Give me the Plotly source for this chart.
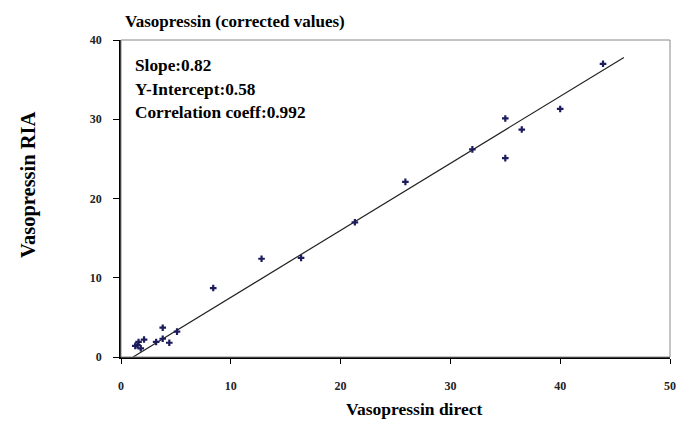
import plotly.graph_objects as go

# Data
direct = [43.9, 40.0, 35.0, 36.5, 35.0, 32.0, 25.9, 21.3, 16.4, 12.8, 8.4,
          5.1, 3.8, 3.8, 4.4, 3.2, 2.1, 1.6, 1.5, 1.8, 1.3]
ria = [37.0, 31.3, 30.1, 28.7, 25.1, 26.2, 22.1, 17.0, 12.5, 12.4, 8.7,
       3.2, 3.7, 2.3, 1.8, 1.9, 2.2, 1.9, 1.5, 1.1, 1.4]
fit_x = [1.1, 45.8]
fit_y = [0.0, 37.8]
x_ticks = [0, 10, 20, 30, 40, 50]
y_ticks = [0, 10, 20, 30, 40]
stats_lines = ["Slope:0.82", "Y-Intercept:0.58", "Correlation coeff:0.992"]

FONT = "Liberation Serif, Times New Roman, serif"

W, H = 678, 426
L, T = 121, 40
R = W - 670
B = H - 357
PW, PH = W - L - R, H - T - B


def px(x):
    return (x - L) / PW


def py(y):
    return (H - B - y) / PH


fig = go.Figure()
fig.add_trace(go.Scatter(x=fit_x, y=fit_y, mode="lines",
                         line=dict(color="#222222", width=1.2), showlegend=False))
fig.add_trace(go.Scatter(x=direct, y=ria, mode="markers",
                         marker=dict(symbol="cross", size=5.5, color="#1c1c5c"),
                         showlegend=False))

tickfont = dict(family=FONT, size=12, color="#222222")
fig.update_layout(
    width=W, height=H,
    margin=dict(l=L, r=R, t=T, b=B, autoexpand=False),
    plot_bgcolor="white", paper_bgcolor="white",
    font=dict(family=FONT, color="black"),
    xaxis=dict(range=[0, 50], tickvals=x_ticks, ticktext=[f"<b>{v}</b>" for v in x_ticks],
               showgrid=False, zeroline=False, automargin=False,
               showline=True, linecolor="black", linewidth=1.5,
               ticks="outside", ticklen=5, tickcolor="black",
               tickfont=tickfont, ticklabelstandoff=12),
    yaxis=dict(range=[0, 40], tickvals=y_ticks, ticktext=[f"<b>{v}</b>" for v in y_ticks],
               showgrid=False, zeroline=False, automargin=False,
               showline=True, linecolor="black", linewidth=1.5,
               ticks="outside", ticklen=6, tickcolor="black",
               tickfont=tickfont, ticklabelstandoff=9),
    shapes=[dict(type="rect", xref="paper", yref="paper", x0=0, y0=0, x1=1, y1=1,
                 line=dict(color="#888888", width=1))],
)

fig.add_annotation(text="<b>Vasopressin (corrected values)</b>", xref="paper", yref="paper",
                   x=px(123), y=py(22), xanchor="left", yanchor="middle", showarrow=False,
                   font=dict(family=FONT, size=17, color="black"))
fig.add_annotation(text="<b>Vasopressin direct</b>", xref="paper", yref="paper",
                   x=px(414), y=py(409), xanchor="center", yanchor="middle", showarrow=False,
                   font=dict(family=FONT, size=17.5, color="black"))
fig.add_annotation(text="<b>Vasopressin RIA</b>", xref="paper", yref="paper",
                   x=px(28), y=py(185), textangle=-90,
                   showarrow=False, xanchor="center", yanchor="middle",
                   font=dict(family=FONT, size=20.5, color="black"))
for i, line in enumerate(stats_lines):
    fig.add_annotation(text=f"<b>{line}</b>", xref="paper", yref="paper",
                       x=px(133), y=py(65.5 + i * 23.5),
                       xanchor="left", yanchor="middle", showarrow=False,
                       font=dict(family=FONT, size=17.3, color="black"))

fig.write_html(
    "out.html",
    config={"displayModeBar": False},
    post_script="document.body.style.margin='0';document.body.style.overflow='hidden';",
)
